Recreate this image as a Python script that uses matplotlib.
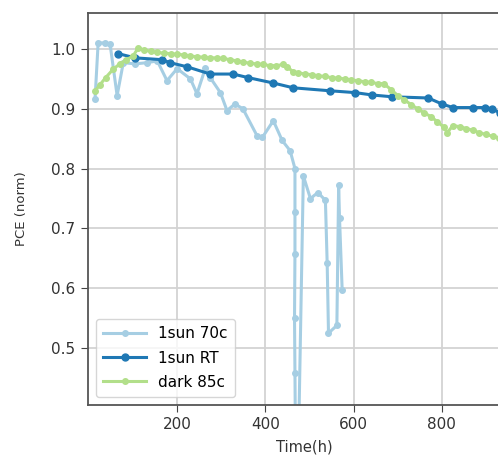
import matplotlib.pyplot as plt

# aging data, normalised PCE vs time
t_70c = [14, 21, 37, 48, 64, 78, 105, 132, 155, 177, 200, 230, 245, 264, 275,
         298, 313, 331, 349, 381, 393, 418, 438, 456, 467, 467, 467, 466, 467,
         468, 476, 486, 502, 519, 536, 540, 543, 562, 566, 568, 574]
pce_70c = [0.917, 1.010, 1.010, 1.008, 0.922, 0.977, 0.975, 0.977, 0.980, 0.947,
           0.967, 0.950, 0.925, 0.968, 0.952, 0.927, 0.897, 0.908, 0.900, 0.855,
           0.852, 0.880, 0.847, 0.830, 0.800, 0.727, 0.658, 0.550, 0.458, 0.360,
           0.380, 0.788, 0.750, 0.760, 0.747, 0.642, 0.525, 0.538, 0.772, 0.717,
           0.597]

t_rt = [67, 105, 166, 184, 223, 275, 327, 361, 418, 463, 547, 603, 642, 687,
        769, 800, 825, 870, 898, 913, 932]
pce_rt = [0.992, 0.985, 0.982, 0.977, 0.970, 0.958, 0.958, 0.952, 0.943, 0.935,
          0.930, 0.927, 0.923, 0.920, 0.918, 0.908, 0.902, 0.902, 0.902, 0.900,
          0.893]

t_85c = [14, 25, 38, 55, 70, 85, 100, 112, 125, 140, 155, 170, 185, 200, 215,
         230, 245, 260, 275, 290, 305, 320, 335, 350, 365, 380, 395, 410, 425,
         440, 450, 462, 475, 490, 505, 520, 535, 550, 565, 580, 595, 610, 625,
         640, 655, 668, 685, 700, 715, 730, 745, 760, 775, 790, 805, 812, 825,
         840, 855, 870, 885, 900, 915, 930, 945, 960]
pce_85c = [0.930, 0.940, 0.952, 0.966, 0.975, 0.982, 0.988, 1.002, 0.998, 0.996,
           0.994, 0.993, 0.992, 0.991, 0.990, 0.988, 0.987, 0.986, 0.985, 0.985,
           0.984, 0.982, 0.980, 0.978, 0.976, 0.975, 0.974, 0.972, 0.972, 0.974,
           0.970, 0.962, 0.960, 0.958, 0.957, 0.955, 0.954, 0.952, 0.951, 0.950,
           0.948, 0.947, 0.945, 0.944, 0.942, 0.942, 0.932, 0.922, 0.915, 0.907,
           0.900, 0.893, 0.887, 0.878, 0.869, 0.860, 0.872, 0.870, 0.867, 0.864,
           0.860, 0.857, 0.854, 0.851, 0.848, 0.845]

plt.rcParams['font.size'] = 11

fig = plt.figure(figsize=(4.98, 4.61), dpi=100)
ax = fig.add_axes([0.1767, 0.1215, 0.8675, 0.8503])

ax.plot(t_70c, pce_70c, 'o-', color='#a6cee3', lw=2.2, ms=4, label='1sun 70c')
ax.plot(t_rt, pce_rt, 'o-', color='#1f78b4', lw=2.2, ms=5, label='1sun RT')
ax.plot(t_85c, pce_85c, 'o-', color='#b2df8a', lw=2.2, ms=4, label='dark 85c')

ax.set_xlim(-2, 977)
ax.set_ylim(0.405, 1.06)
ax.set_xticks([200, 400, 600, 800])
ax.set_yticks([0.5, 0.6, 0.7, 0.8, 0.9, 1.0])
ax.grid(color='#d3d3d3', lw=1.3)
ax.set_axisbelow(True)
for s in ax.spines.values():
    s.set_color('#555555')
    s.set_linewidth(1.3)
ax.tick_params(colors='#444444', labelcolor='#333333', labelsize=11, length=5,
               pad=4)

ax.set_xlabel('Time(h)', color='#333333', fontsize=10.5, labelpad=5)
ax.set_ylabel('PCE (norm)', color='#333333', fontsize=9.5)
ax.yaxis.set_label_coords(-0.139, 0.5)
ax.legend(loc='lower left', fontsize=11, handlelength=2.8,
          borderaxespad=0.5, labelspacing=0.6, borderpad=0.5)

fig.savefig('out.png', dpi=100)
